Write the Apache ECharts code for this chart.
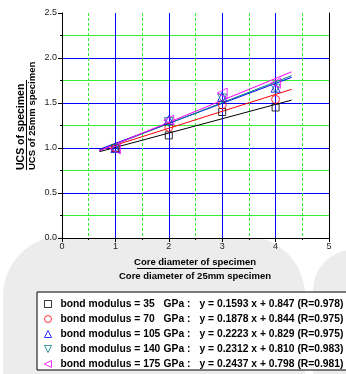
<!DOCTYPE html>
<html><head><meta charset="utf-8">
<script src="https://cdn.jsdelivr.net/npm/echarts@6/dist/echarts.min.js"></script>
<style>html,body{margin:0;padding:0;background:#fff}#c{width:346px;height:374px}</style>
</head><body><div id="c"></div>
<script>
// Data
const diameters = [1, 2, 3, 4];
const moduli = ['35', '70', '105', '140', '175'];
const s35  = [1.00, 1.14, 1.40, 1.45];
const s70  = [1.00, 1.23, 1.48, 1.54];
const s105 = [1.00, 1.31, 1.57, 1.67];
const s140 = [0.99, 1.29, 1.55, 1.66];
const s175 = [0.99, 1.31, 1.61, 1.72];
const fitX = [0.7, 4.3];
const fitStart = [0.959, 0.975, 0.985, 0.972, 0.969];
const fitEnd   = [1.532, 1.652, 1.785, 1.804, 1.846];
const equations = [
  'y = 0.1593 x + 0.847 (R=0.978)',
  'y = 0.1878 x + 0.844 (R=0.975)',
  'y = 0.2223 x + 0.829 (R=0.975)',
  'y = 0.2312 x + 0.810 (R=0.983)',
  'y = 0.2437 x + 0.798 (R=0.981)'
];
const yTicks = ['0.0', '0.5', '1.0', '1.5', '2.0', '2.5'];
const xTicks = ['0', '1', '2', '3', '4', '5'];

const colors = ['#000000', '#ff0000', '#0000ff', '#008080', '#ff00ff'];
const symbols = ['rect', 'circle', 'triangle', 'triangle', 'triangle'];
const legendIcons = ['rect', 'circle', 'triangle', 'path://M0,0L10,0L5,10Z', 'path://M10,0L10,10L0,5Z'];
const rotates = [0, 0, 0, 180, 90];
const sizes = [7, 8, 9, 9, 10];
const allSeries = [s35, s70, s105, s140, s175];

const series = [];
allSeries.forEach((vals, i) => {
  series.push({
    name: 'fit' + i, type: 'line', symbol: 'none', silent: true,
    data: [[fitX[0], fitStart[i]], [fitX[1], fitEnd[i]]],
    lineStyle: { color: colors[i], width: 1 }, z: 3
  });
});
allSeries.forEach((vals, i) => {
  series.push({
    name: 'm' + i, type: 'scatter', symbol: symbols[i], symbolRotate: rotates[i],
    symbolSize: sizes[i],
    data: vals.map((v, k) => [diameters[k], v]),
    itemStyle: { color: 'rgba(0,0,0,0)', borderColor: colors[i], borderWidth: 1 }, z: 4
  });
});

const FF = 'Liberation Sans, Arial, sans-serif';
const chart = echarts.init(document.getElementById('c'), null, { renderer: 'canvas' });
chart.setOption({
  animation: false,
  grid: { left: 62, right: 17, top: 13, bottom: 136 },
  xAxis: [{
    type: 'value', min: 0, max: 5, interval: 1,
    axisLine: { onZero: false, lineStyle: { color: '#000', width: 1 } },
    axisTick: { length: 4, lineStyle: { color: '#000' } },
    minorTick: { show: true, splitNumber: 2, length: 2, lineStyle: { color: '#000' } },
    axisLabel: { fontSize: 9, color: '#222', fontFamily: FF, margin: 4, formatter: (v) => xTicks[Math.round(v)] },
    splitLine: { show: true, showMinLine: false, showMaxLine: false, lineStyle: { color: '#0000ff', width: 1 } },
    minorSplitLine: { show: true, lineStyle: { color: '#33ee33', width: 1, type: [3, 2] } }
  }],
  yAxis: [{
    type: 'value', min: 0, max: 2.5, interval: 0.5,
    axisLine: { show: true, lineStyle: { color: '#000', width: 1 } },
    axisTick: { length: 4, lineStyle: { color: '#000' } },
    minorTick: { show: true, splitNumber: 2, length: 2, lineStyle: { color: '#000' } },
    axisLabel: { fontSize: 9, color: '#222', fontFamily: FF, margin: 5, formatter: (v) => yTicks[Math.round(v * 2)] },
    splitLine: { show: true, showMinLine: false, showMaxLine: false, lineStyle: { color: '#0000ff', width: 1 } },
    minorSplitLine: { show: true, lineStyle: { color: '#33ee33', width: 1 } }
  }, {
    type: 'value', min: 0, max: 2.5, interval: 0.5, position: 'right',
    axisLine: { show: true, lineStyle: { color: '#000', width: 1 } },
    axisTick: { show: false }, minorTick: { show: false }, axisLabel: { show: false },
    splitLine: { show: false }, minorSplitLine: { show: false }
  }],
  legend: {
    orient: 'vertical', left: 37, top: 292,
    data: moduli.map((m, i) => ({
      name: 'm' + i, icon: legendIcons[i],
      itemStyle: { color: 'rgba(0,0,0,0)', borderColor: colors[i], borderWidth: 1 }
    })),
    backgroundColor: '#fff', borderColor: '#000', borderWidth: 1,
    padding: [6, 20, 0, 7], itemGap: 3, itemWidth: 7, itemHeight: 7,
    selectedMode: false,
    textStyle: {
      fontFamily: FF, fontWeight: 'bold', fontSize: 10.3, color: '#000', lineHeight: 12,
      rich: {
        a: { fontFamily: FF, fontWeight: 'bold', fontSize: 10.3, width: 103, padding: [0, 0, 0, 4] },
        b: { fontFamily: FF, fontWeight: 'bold', fontSize: 10.3, width: 36 },
        c: { fontFamily: FF, fontWeight: 'bold', fontSize: 10.3 }
      }
    },
    formatter: (name) => {
      const i = +name.slice(1);
      return '{a|bond modulus = ' + moduli[i] + '}{b|GPa :}{c|' + equations[i] + '}';
    }
  },
  graphic: [
    { type: 'rect', z: -10, shape: { x: 3, y: 236, width: 302, height: 200, r: 60 }, style: { fill: '#ececec' } },
    { type: 'rect', z: -10, shape: { x: 313, y: 250, width: 120, height: 200, r: 40 }, style: { fill: '#ececec' } },
    { type: 'rect', z: -9, shape: { x: 62, y: 13, width: 267, height: 225 }, style: { fill: '#fff' } },
    { type: 'text', x: 195, y: 262, style: { text: 'Core diameter of specimen', font: 'bold 9.5px ' + FF, fill: '#000', align: 'center', verticalAlign: 'middle' } },
    { type: 'line', shape: { x1: 137, y1: 268.5, x2: 253, y2: 268.5 }, style: { stroke: '#000', lineWidth: 1 } },
    { type: 'text', x: 195, y: 276, style: { text: 'Core diameter of 25mm specimen', font: 'bold 9.5px ' + FF, fill: '#000', align: 'center', verticalAlign: 'middle' } },
    { type: 'text', x: 21, y: 170, rotation: Math.PI / 2, style: { text: 'UCS of specimen', font: 'bold 10.5px ' + FF, fill: '#000', align: 'left', verticalAlign: 'middle' } },
    { type: 'line', shape: { x1: 26.5, y1: 80, x2: 26.5, y2: 170 }, style: { stroke: '#000', lineWidth: 1 } },
    { type: 'text', x: 32, y: 170, rotation: Math.PI / 2, style: { text: 'UCS of 25mm specimen', font: 'bold 9.5px ' + FF, fill: '#000', align: 'left', verticalAlign: 'middle' } }
  ],
  series: series
});
</script></body></html>
